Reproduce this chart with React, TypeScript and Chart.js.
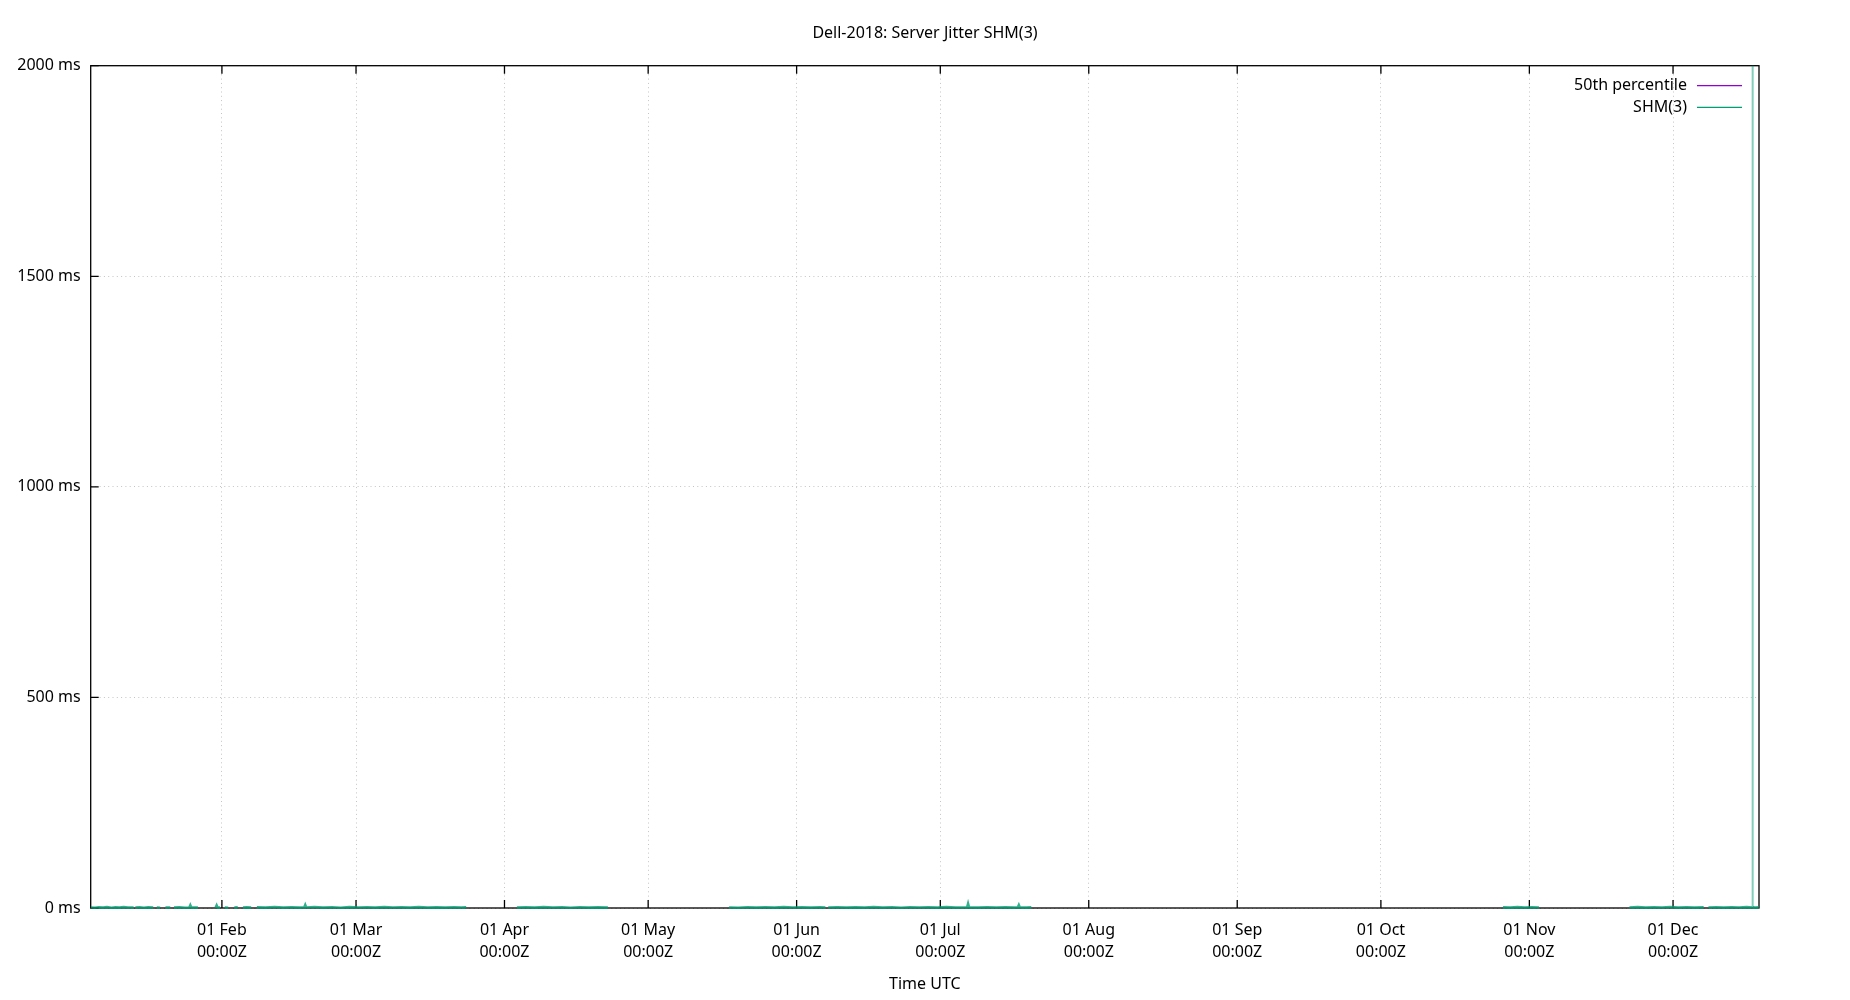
import { useEffect, useRef } from 'react'
import { Chart, registerables, type Plugin } from 'chart.js'

Chart.register(...registerables)

// ─── Data ────────────────────────────────────────────────────────────────────
// x = days since 2018-01-01 00:00Z, y = jitter in ms (null = gap in the log)

const TITLE = 'Dell-2018: Server Jitter SHM(3)'
const X_TITLE = 'Time UTC'

const X_MIN = 3.6
const X_MAX = 351.95

const MONTH_DAYS   = [31, 59, 90, 120, 151, 181, 212, 243, 273, 304, 334]
const MONTH_LABELS = ['01 Feb', '01 Mar', '01 Apr', '01 May', '01 Jun', '01 Jul',
                      '01 Aug', '01 Sep', '01 Oct', '01 Nov', '01 Dec']
const TIME_LABEL   = '00:00Z'

const Y_TICKS = [0, 500, 1000, 1500, 2000]

const P50_DAYS: number[] = []
const P50_MS: number[] = []

const SHM_DAYS = [
  3.6, 4.5, 5.3, 6.2, 7.0, 7.9, 8.8, 9.6, 10.5, 11.4, 12.56, 12.7,
  12.93, 13.8, 14.7, 15.6, 16.65, 17.0,
  17.4, 18.1, 18.6,
  19.2, 20.2, 20.6,
  21.0, 22.1, 23.3, 24.2, 24.4, 24.6, 25.2, 26.0, 28.0,
  29.7, 29.9, 30.1, 30.6, 31.0,
  31.6, 32.3, 33.0,
  33.6, 34.3, 34.8,
  35.4, 36.2, 37.1, 37.7,
  38.3, 40.1, 42.0, 43.8, 45.5, 47.2, 48.2, 48.4, 48.6, 50.3, 52.1, 54.0, 55.8, 57.6,
  59.5, 61.3, 63.0, 64.9, 66.7, 68.5, 70.3, 72.1, 74.0, 75.8, 77.6, 79.5, 81.0, 82.0, 87.0,
  92.6, 94.5, 96.3, 98.2, 100.1, 102.0, 103.8, 105.7, 107.6, 109.5, 111.6, 124.0,
  136.9, 138.8, 140.7, 142.6, 144.5, 146.4, 148.3, 150.2, 152.1, 154.0, 155.9, 157.0, 157.3,
  157.6, 159.5, 161.4, 163.3, 165.2, 167.1, 169.0, 170.9, 172.8, 174.7, 176.6, 178.5,
  180.4, 182.3, 184.2, 186.6, 186.8, 187.0, 188.9, 190.8, 192.7, 194.6, 196.5, 197.2,
  197.4, 197.6, 199.0, 200.0, 250.0,
  298.5, 300.0, 301.5, 303.0, 304.5, 306.0, 315.0,
  324.9, 326.6, 328.3, 330.0, 331.7, 333.4, 335.1, 336.8, 338.5, 340.4, 340.9,
  341.4, 343.0, 344.6, 346.2, 347.8, 349.4, 350.55, 350.6, 350.65, 351.2, 351.9,
]

const SHM_MS = [
  1.2, 0.6, 1.8, 0.9, 2.1, 0.7, 1.5, 0.8, 2.0, 1.1, 0.9, null,
  1.0, 1.9, 0.6, 1.4, 0.8, null,
  1.1, 0.7, null,
  1.3, 0.8, null,
  1.0, 1.6, 0.7, 1.2, 6.5, 1.1, 0.9, 1.3, null,
  0.9, 6.0, 1.0, 0.8, null,
  1.2, 0.7, null,
  1.0, 1.4, null,
  0.8, 1.5, 0.9, null,
  1.4, 0.8, 2.2, 1.0, 1.9, 0.9, 1.5, 7.0, 1.3, 2.4, 1.0, 1.8, 0.7, 2.0,
  1.1, 1.7, 0.8, 2.1, 1.2, 1.6, 0.9, 2.0, 1.0, 1.5, 0.8, 1.9, 1.1, 1.4, null,
  1.0, 1.8, 0.8, 2.0, 1.1, 1.6, 0.7, 1.9, 1.0, 1.5, 0.9, null,
  1.2, 0.7, 1.9, 1.0, 1.7, 0.8, 2.0, 1.1, 1.5, 0.8, 1.8, 1.0, null,
  1.1, 1.9, 0.8, 1.6, 0.9, 2.1, 1.0, 1.7, 0.7, 1.9, 1.2, 1.5,
  0.8, 2.0, 1.0, 1.6, 10.0, 1.4, 0.9, 1.8, 1.1, 1.5, 0.8, 1.7,
  7.0, 1.2, 1.0, 1.4, null,
  1.5, 0.9, 2.0, 1.1, 1.7, 1.2, null,
  1.3, 2.0, 0.9, 1.8, 1.1, 2.2, 1.0, 1.7, 0.9, 1.5, null,
  1.2, 1.9, 0.9, 1.7, 1.1, 2.0, 1.3, 2450, 1.4, 1.0, 1.6,
]

// gnuplot default line colours
const COLOR_P50 = '#9400d3'
const COLOR_SHM = '#009e73'
const COLOR_SHM_BAND  = 'rgba(0, 158, 115, 0.8)'
const COLOR_SHM_SPIKE = 'rgba(0, 158, 115, 0.5)'
const GRID_COLOR = '#c4c4c4'
const FONT = '"Noto Sans", "Open Sans", sans-serif'

// ─── Plugins ─────────────────────────────────────────────────────────────────

// Box border with gnuplot-style inward tick marks, drawn under the data
const frame: Plugin<'line'> = {
  id: 'frame',
  beforeDatasetsDraw(chart) {
    const { ctx, chartArea: a, scales } = chart
    const TICK = 8
    ctx.save()
    ctx.strokeStyle = '#000'
    ctx.lineWidth = 1.3
    ctx.strokeRect(a.left, a.top, a.right - a.left, a.bottom - a.top)
    ctx.beginPath()
    for (const t of scales.x.ticks) {
      const px = scales.x.getPixelForValue(t.value)
      ctx.moveTo(px, a.bottom); ctx.lineTo(px, a.bottom - TICK)
      ctx.moveTo(px, a.top);    ctx.lineTo(px, a.top + TICK)
    }
    for (const t of scales.y.ticks) {
      const py = scales.y.getPixelForValue(t.value)
      ctx.moveTo(a.left, py); ctx.lineTo(a.left + TICK, py)
    }
    ctx.stroke()
    ctx.restore()
  },
}

// Key in the top-right corner of the plot: text, then a line sample
const insideKey: Plugin<'line'> = {
  id: 'insideKey',
  afterDatasetsDraw(chart) {
    const { ctx, chartArea: a } = chart
    ctx.save()
    ctx.font = `16px ${FONT}`
    ctx.textAlign = 'right'
    ctx.textBaseline = 'middle'
    chart.data.datasets.forEach((ds, i) => {
      const y = a.top + 20 + i * 21.6
      ctx.fillStyle = '#000'
      ctx.fillText(ds.label ?? '', a.right - 72, y)
      ctx.strokeStyle = [COLOR_P50, COLOR_SHM][i]
      ctx.lineWidth = 1.3
      ctx.beginPath()
      ctx.moveTo(a.right - 62, y)
      ctx.lineTo(a.right - 17, y)
      ctx.stroke()
    })
    ctx.restore()
  },
}

// ─── Component ───────────────────────────────────────────────────────────────

export default function App() {
  const canvasRef = useRef<HTMLCanvasElement>(null)

  useEffect(() => {
    document.body.style.margin = '0'
    const canvas = canvasRef.current
    if (!canvas) return

    Chart.defaults.font.family = FONT
    Chart.defaults.color = '#000'

    const chart = new Chart(canvas, {
      type: 'line',
      data: {
        datasets: [
          {
            label: '50th percentile',
            data: P50_DAYS.map((d, i) => ({ x: d, y: P50_MS[i] })),
            borderColor: COLOR_P50,
            borderWidth: 1.3,
            pointRadius: 0,
          },
          {
            label: 'SHM(3)',
            data: SHM_DAYS.map((d, i) => ({ x: d, y: SHM_MS[i] as number })),
            borderColor: COLOR_SHM_BAND,
            borderWidth: 2.6,
            pointRadius: 0,
            spanGaps: false,
            tension: 0,
            clip: { left: 0, top: 0, right: 0, bottom: 4 },
            segment: {
              borderColor: (c) =>
                Math.abs(c.p1.parsed.y - c.p0.parsed.y) > 100 ? COLOR_SHM_SPIKE : COLOR_SHM_BAND,
              borderWidth: (c) =>
                Math.abs(c.p1.parsed.y - c.p0.parsed.y) > 100 ? 2 : 2.6,
            },
          },
        ],
      },
      options: {
        animation: false,
        responsive: true,
        maintainAspectRatio: false,
        devicePixelRatio: 1,
        layout: { padding: 0 },
        plugins: {
          legend: { display: false },
          tooltip: { enabled: false },
          title: {
            display: true,
            text: TITLE,
            color: '#000',
            font: { size: 16, weight: 'normal', lineHeight: 1.2 },
            padding: { top: 23.4, bottom: 23.1 },
          },
        },
        scales: {
          x: {
            type: 'linear',
            min: X_MIN,
            max: X_MAX,
            afterBuildTicks: (s) => { s.ticks = MONTH_DAYS.map((v) => ({ value: v })) },
            afterFit: (s) => { s.height = 92 },
            ticks: {
              autoSkip: false,
              maxRotation: 0,
              padding: 11,
              color: '#000',
              font: { size: 16, lineHeight: 1.375 },
              callback: (v) => {
                const i = MONTH_DAYS.indexOf(Number(v))
                return i < 0 ? '' : [MONTH_LABELS[i], TIME_LABEL]
              },
            },
            grid: { color: GRID_COLOR, lineWidth: 1, drawTicks: false },
            border: { display: false, dash: [1, 3.3] },
            title: {
              display: true,
              text: X_TITLE,
              color: '#000',
              font: { size: 16, lineHeight: 1.2 },
              padding: { top: 0, bottom: 6.4 },
            },
          },
          y: {
            type: 'linear',
            min: 0,
            max: 2000,
            afterBuildTicks: (s) => { s.ticks = Y_TICKS.map((v) => ({ value: v })) },
            afterFit: (s) => { s.width = 90.7 },
            ticks: {
              padding: 10,
              color: '#000',
              font: { size: 16 },
              callback: (v) => `${v} ms`,
            },
            grid: { color: GRID_COLOR, lineWidth: 1, drawTicks: false },
            border: { display: false, dash: [1, 3.3] },
          },
          // empty right margin so the title centres over the plot, as gnuplot does
          yRight: {
            type: 'linear',
            position: 'right',
            min: 0,
            max: 2000,
            afterFit: (s) => { s.width = 91 },
            ticks: { display: false },
            grid: { display: false, drawTicks: false },
            border: { display: false },
          },
        },
      },
      plugins: [frame, insideKey],
    })

    return () => chart.destroy()
  }, [])

  return (
    <div style={{ position: 'fixed', left: 0, top: 0, width: 1850, height: 1000, background: '#fff' }}>
      <canvas ref={canvasRef} />
    </div>
  )
}
